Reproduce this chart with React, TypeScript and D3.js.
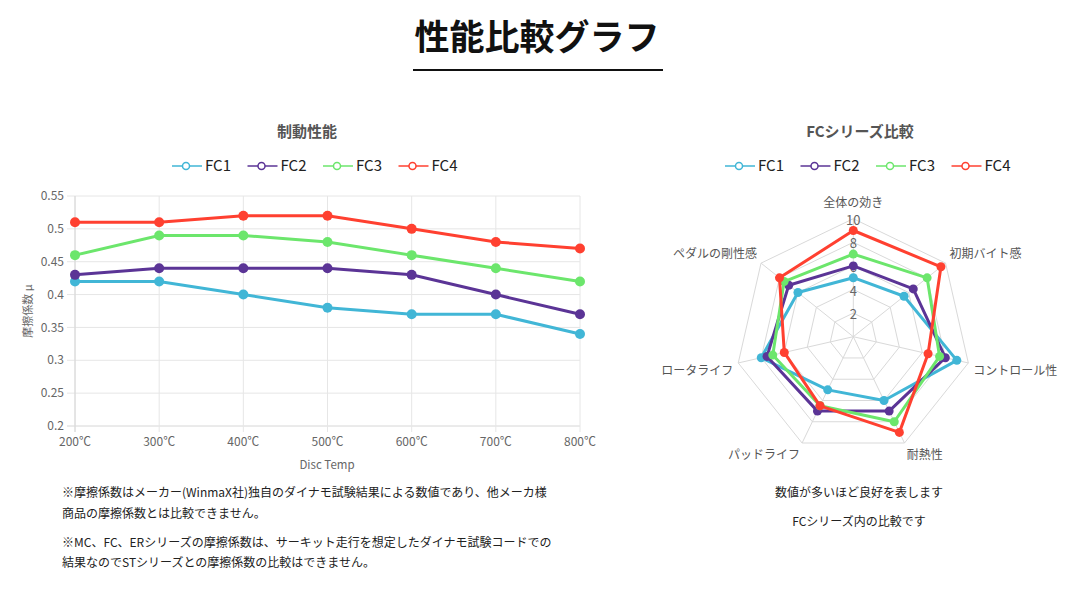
import React from "react";
import * as d3 from "d3";

const seriesNames = ["FC1", "FC2", "FC3", "FC4"];
const seriesColors = ["#41b6d6", "#5b3496", "#6ce66c", "#ff4030"];

// 制動性能 (friction coefficient vs disc temperature)
const temps = ["200℃", "300℃", "400℃", "500℃", "600℃", "700℃", "800℃"];
const fc1Mu = [0.42, 0.42, 0.4, 0.38, 0.37, 0.37, 0.34];
const fc2Mu = [0.43, 0.44, 0.44, 0.44, 0.43, 0.4, 0.37];
const fc3Mu = [0.46, 0.49, 0.49, 0.48, 0.46, 0.44, 0.42];
const fc4Mu = [0.51, 0.51, 0.52, 0.52, 0.5, 0.48, 0.47];
const muTicks = [0.2, 0.25, 0.3, 0.35, 0.4, 0.45, 0.5, 0.55];

// FCシリーズ比較 (radar)
const radarAxes = ["全体の効き", "初期バイト感", "コントロール性", "耐熱性", "パッドライフ", "ロータライフ", "ペダルの剛性感"];
const fc1Radar = [5, 5.5, 9, 6, 5, 8, 6];
const fc2Radar = [6, 6.5, 8, 7, 7, 7.5, 7];
const fc3Radar = [7, 8, 7.5, 8, 6.5, 7, 7.5];
const fc4Radar = [9, 9.5, 6.5, 9, 6.5, 6, 8];
const radarTicks = [2, 4, 6, 8, 10];

const notesLeft = [
  "※摩擦係数はメーカー(WinmaX社)独自のダイナモ試験結果による数値であり、他メーカ様",
  "商品の摩擦係数とは比較できません。",
  "※MC、FC、ERシリーズの摩擦係数は、サーキット走行を想定したダイナモ試験コードでの",
  "結果なのでSTシリーズとの摩擦係数の比較はできません。",
];
const notesRight = ["数値が多いほど良好を表します", "FCシリーズ内の比較です"];

const FONT = "'Noto Sans CJK JP', 'Noto Sans', sans-serif";
const GRID = "#e6e6e6";
const TICK = "#666";

function Legend({ x, y }: { x: number; y: number }) {
  return (
    <g transform={`translate(${x},${y})`}>
      {seriesNames.map((name, i) => (
        <g key={name} transform={`translate(${i * 75.5},0)`}>
          <line x1={0} x2={30} y1={0} y2={0} stroke={seriesColors[i]} strokeWidth={1.5} />
          <circle cx={14} cy={0} r={3.5} fill="#fff" stroke={seriesColors[i]} strokeWidth={1.5} />
          <text x={33} y={0} dy="0.35em" fontSize={15} fill="#222" fontFamily={FONT}>
            {name}
          </text>
        </g>
      ))}
    </g>
  );
}

function LineChart() {
  const data = [fc1Mu, fc2Mu, fc3Mu, fc4Mu];
  const x = d3.scalePoint<string>().domain(temps).range([75, 580]);
  const y = d3.scaleLinear().domain([0.2, 0.55]).range([426, 196]);
  const line = d3
    .line<number>()
    .x((_, i) => x(temps[i]) as number)
    .y((d) => y(d));

  return (
    <g fontFamily={FONT}>
      <text x={307} y={132} textAnchor="middle" dy="0.35em" fontSize={15} fontWeight={700} fill="#555">
        制動性能
      </text>
      <Legend x={172} y={166} />

      {muTicks.map((t) => (
        <g key={t}>
          <line x1={67} x2={580} y1={y(t)} y2={y(t)} stroke={t === 0.2 ? "#d6d6d6" : GRID} strokeWidth={1} />
          <text x={64} y={y(t)} dy="0.35em" textAnchor="end" fontSize={12} fill={TICK}>
            {String(t)}
          </text>
        </g>
      ))}
      {temps.map((t) => (
        <g key={t}>
          <line x1={x(t)} x2={x(t)} y1={196} y2={432} stroke={GRID} strokeWidth={1} />
          <text x={x(t)} y={442} dy="0.35em" textAnchor="middle" fontSize={12} fill={TICK}>
            {t}
          </text>
        </g>
      ))}
      <line x1={75} x2={75} y1={196} y2={432} stroke="#d6d6d6" />

      <text
        transform={`translate(28,311) rotate(-90)`}
        textAnchor="middle"
        dy="0.35em"
        fontSize={11}
        fill={TICK}
      >
        摩擦係数 μ
      </text>
      <text x={327} y={465} textAnchor="middle" dy="0.35em" fontSize={11.5} fill={TICK}>
        Disc Temp
      </text>

      {data.map((s, k) => (
        <g key={k}>
          <path d={line(s) || ""} fill="none" stroke={seriesColors[k]} strokeWidth={3} />
          {s.map((v, i) => (
            <circle key={i} cx={x(temps[i])} cy={y(v)} r={5} fill={seriesColors[k]} />
          ))}
        </g>
      ))}
    </g>
  );
}

function RadarChart() {
  const cx = 853.3;
  const cy = 336.7;
  const data = [fc1Radar, fc2Radar, fc3Radar, fc4Radar];
  const r = d3.scaleLinear().domain([0, 10]).range([0, 118]);
  const n = radarAxes.length;
  const angle = (i: number) => (i * 2 * Math.PI) / n;
  const pt = (i: number, rad: number): [number, number] => [
    cx + Math.sin(angle(i)) * rad,
    cy - Math.cos(angle(i)) * rad,
  ];
  const poly = d3
    .line<number>()
    .x((d, i) => pt(i, r(d))[0])
    .y((d, i) => pt(i, r(d))[1])
    .curve(d3.curveLinearClosed);

  return (
    <g fontFamily={FONT}>
      <text x={860} y={132} textAnchor="middle" dy="0.35em" fontSize={15} fontWeight={700} fill="#555">
        FCシリーズ比較
      </text>
      <Legend x={725} y={166} />

      {radarTicks.map((t) => (
        <path
          key={t}
          d={poly(radarAxes.map(() => t)) || ""}
          fill="none"
          stroke="#d9d9d9"
          strokeWidth={1}
        />
      ))}
      {radarAxes.map((a, i) => {
        const [ex, ey] = pt(i, r(10));
        return <line key={a} x1={cx} y1={cy} x2={ex} y2={ey} stroke="#d9d9d9" strokeWidth={1} />;
      })}
      {radarTicks.map((t) => (
        <text key={t} x={cx} y={cy - r(t) + 1.5} dy="0.35em" textAnchor="middle" fontSize={13} fill={TICK}>
          {t}
        </text>
      ))}
      {radarAxes.map((a, i) => {
        const [lx, ly] = pt(i, r(10) + 5);
        const s = Math.sin(angle(i));
        const c = Math.cos(angle(i));
        const anchor = s > 0.1 ? "start" : s < -0.1 ? "end" : "middle";
        const off = c > 0.9 ? -11 : c > 0 ? -6.5 : c > -0.5 ? 6.5 : 7.5;
        return (
          <text key={a} x={lx} y={ly + off} dy="0.35em" textAnchor={anchor} fontSize={12} fill="#555">
            {a}
          </text>
        );
      })}

      {data.map((s, k) => (
        <g key={k}>
          <path d={poly(s) || ""} fill="none" stroke={seriesColors[k]} strokeWidth={3} strokeLinejoin="round" />
          {s.map((v, i) => {
            const [px, py] = pt(i, r(v));
            return <circle key={i} cx={px} cy={py} r={4.5} fill={seriesColors[k]} />;
          })}
        </g>
      ))}
    </g>
  );
}

export default function App() {
  return (
    <svg width={1078} height={589} style={{ position: "absolute", left: 0, top: 0, background: "#fff" }}>
      <text
        x={537}
        y={38}
        textAnchor="middle"
        dy="0.35em"
        fontSize={35}
        fontWeight={700}
        fill="#111"
        fontFamily={FONT}
      >
        性能比較グラフ
      </text>
      <line x1={413} x2={663} y1={70} y2={70} stroke="#111" strokeWidth={2} />

      <LineChart />
      <RadarChart />

      {notesLeft.map((t, i) => (
        <text
          key={i}
          x={62}
          y={[493, 514, 543, 563][i]}
          dy="0.35em"
          fontSize={12}
          fill="#222"
          fontFamily={FONT}
        >
          {t}
        </text>
      ))}
      {notesRight.map((t, i) => (
        <text
          key={i}
          x={859}
          y={[493, 522][i]}
          dy="0.35em"
          textAnchor="middle"
          fontSize={12}
          fill="#222"
          fontFamily={FONT}
        >
          {t}
        </text>
      ))}
    </svg>
  );
}
